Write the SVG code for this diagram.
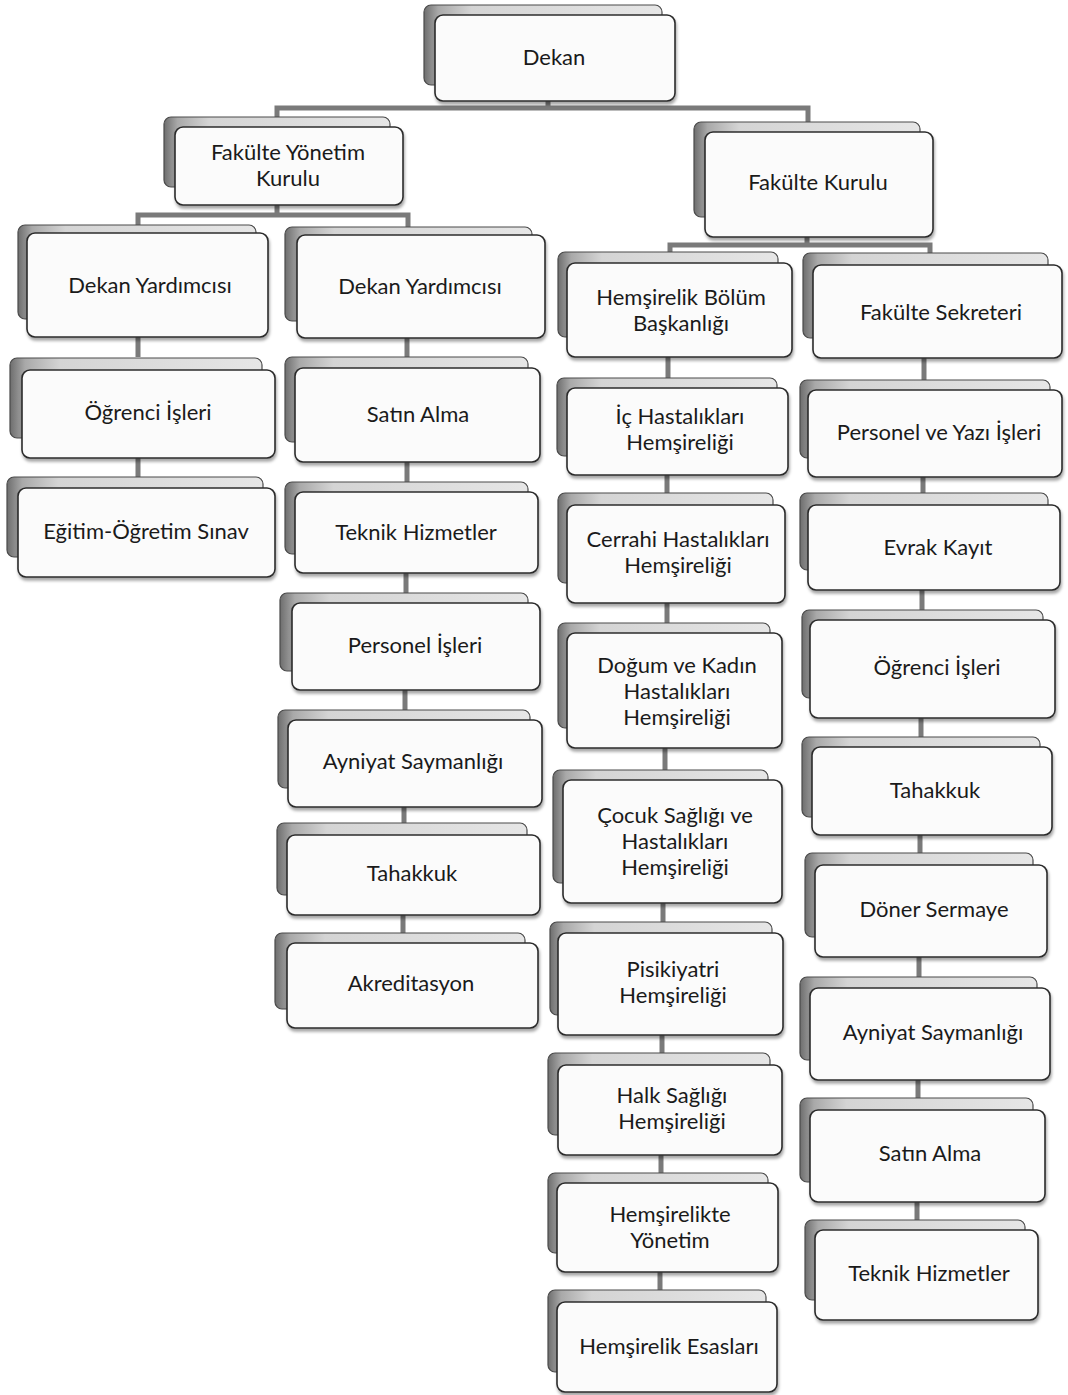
<svg xmlns="http://www.w3.org/2000/svg" width="1068" height="1395" viewBox="0 0 1068 1395">
<defs>
<linearGradient id="bk" x1="0" y1="0" x2="1" y2="0">
<stop offset="0" stop-color="#6e6e6e"/>
<stop offset="0.06" stop-color="#a9a9a9"/>
<stop offset="0.2" stop-color="#d4d4d4"/>
<stop offset="1" stop-color="#e6e6e6"/>
</linearGradient>
<filter id="sh" x="-5%" y="-5%" width="112%" height="120%">
<feDropShadow dx="1" dy="3" stdDeviation="1.5" flood-color="#000" flood-opacity="0.35"/>
</filter>
</defs>
<style>
.bk{fill:url(#bk);stroke:#4a4a4a;stroke-width:1.2}
.fr{fill:#fbfbfb;stroke:#2b2b2b;stroke-width:1.6;filter:url(#sh)}
.t{font-family:Lato,"Liberation Sans",sans-serif;font-size:22px;fill:#1a1a1a;text-anchor:middle}
.c{fill:none;stroke:#7a7a7a;stroke-width:5;stroke-linejoin:miter}
</style>
<rect width="1068" height="1395" fill="#ffffff"/>
<g id="connectors">
<path class="c" d="M548,101 V108 M277,117 V108 H808 V122"/>
<path class="c" d="M277,205 V215 M138,225 V215 H408 V227"/>
<path class="c" d="M807,237 V245 M670,253 V245 H930 V253"/>
<path class="c" d="M138,337 V357 M138,458 V477"/>
<path class="c" d="M407,338 V357 M407,462 V482 M406,573 V593 M405,690 V710 M404,807 V823 M403,915 V933"/>
<path class="c" d="M668,357 V378 M667,475 V493 M667,603 V623 M665,748 V770 M663,903 V922 M662,1035 V1053 M661,1155 V1173 M660,1272 V1290"/>
<path class="c" d="M924,358 V380 M923,477 V493 M922,590 V610 M921,718 V737 M920,835 V853 M919,957 V977 M918,1080 V1098 M917,1202 V1220"/>
</g>
<g id="n-dekan"><rect class="bk" x="424" y="5" width="238" height="80" rx="7"/><rect class="fr" x="435" y="15" width="240" height="86" rx="8"/><text class="t" x="554" y="65">Dekan</text></g>
<g id="n-fyk"><rect class="bk" x="164" y="117" width="226" height="70" rx="7"/><rect class="fr" x="175" y="127" width="228" height="78" rx="8"/><text class="t" x="288" y="160">Fakülte Yönetim</text><text class="t" x="288" y="186">Kurulu</text></g>
<g id="n-fk"><rect class="bk" x="694" y="122" width="226" height="95" rx="7"/><rect class="fr" x="705" y="132" width="228" height="105" rx="8"/><text class="t" x="818" y="190">Fakülte Kurulu</text></g>
<g id="n-dy1"><rect class="bk" x="18" y="225" width="238" height="94" rx="7"/><rect class="fr" x="27" y="233" width="241" height="104" rx="8"/><text class="t" x="150" y="293">Dekan Yardımcısı</text></g>
<g id="n-oi1"><rect class="bk" x="10" y="358" width="252" height="80" rx="7"/><rect class="fr" x="22" y="370" width="253" height="88" rx="8"/><text class="t" x="148" y="420">Öğrenci İşleri</text></g>
<g id="n-eos"><rect class="bk" x="7" y="477" width="256" height="80" rx="7"/><rect class="fr" x="18" y="488" width="257" height="89" rx="8"/><text class="t" x="146" y="539">Eğitim-Öğretim Sınav</text></g>
<g id="n-dy2"><rect class="bk" x="285" y="227" width="247" height="94" rx="7"/><rect class="fr" x="297" y="235" width="248" height="103" rx="8"/><text class="t" x="420" y="294">Dekan Yardımcısı</text></g>
<g id="n-sa1"><rect class="bk" x="285" y="357" width="243" height="85" rx="7"/><rect class="fr" x="295" y="368" width="245" height="94" rx="8"/><text class="t" x="418" y="422">Satın Alma</text></g>
<g id="n-th1"><rect class="bk" x="285" y="482" width="243" height="72" rx="7"/><rect class="fr" x="295" y="492" width="243" height="81" rx="8"/><text class="t" x="416" y="540">Teknik Hizmetler</text></g>
<g id="n-pi"><rect class="bk" x="280" y="593" width="248" height="78" rx="7"/><rect class="fr" x="292" y="603" width="248" height="87" rx="8"/><text class="t" x="415" y="653">Personel İşleri</text></g>
<g id="n-as1"><rect class="bk" x="278" y="710" width="252" height="78" rx="7"/><rect class="fr" x="288" y="720" width="254" height="87" rx="8"/><text class="t" x="413" y="769">Ayniyat Saymanlığı</text></g>
<g id="n-ta1"><rect class="bk" x="277" y="823" width="250" height="72" rx="7"/><rect class="fr" x="287" y="835" width="253" height="80" rx="8"/><text class="t" x="412" y="881">Tahakkuk</text></g>
<g id="n-ak"><rect class="bk" x="275" y="933" width="250" height="76" rx="7"/><rect class="fr" x="287" y="943" width="251" height="85" rx="8"/><text class="t" x="411" y="991">Akreditasyon</text></g>
<g id="n-hbb"><rect class="bk" x="558" y="252" width="220" height="85" rx="7"/><rect class="fr" x="567" y="263" width="225" height="94" rx="8"/><text class="t" x="681" y="305">Hemşirelik Bölüm</text><text class="t" x="681" y="331">Başkanlığı</text></g>
<g id="n-ih"><rect class="bk" x="557" y="378" width="220" height="78" rx="7"/><rect class="fr" x="567" y="388" width="221" height="87" rx="8"/><text class="t" x="680" y="424">İç Hastalıkları</text><text class="t" x="680" y="450">Hemşireliği</text></g>
<g id="n-ch"><rect class="bk" x="558" y="493" width="215" height="90" rx="7"/><rect class="fr" x="567" y="505" width="218" height="98" rx="8"/><text class="t" x="678" y="547">Cerrahi Hastalıkları</text><text class="t" x="678" y="573">Hemşireliği</text></g>
<g id="n-dk"><rect class="bk" x="558" y="623" width="212" height="105" rx="7"/><rect class="fr" x="567" y="633" width="215" height="115" rx="8"/><text class="t" x="677" y="673">Doğum ve Kadın</text><text class="t" x="677" y="699">Hastalıkları</text><text class="t" x="677" y="725">Hemşireliği</text></g>
<g id="n-cs"><rect class="bk" x="553" y="770" width="215" height="113" rx="7"/><rect class="fr" x="563" y="780" width="219" height="123" rx="8"/><text class="t" x="675" y="823">Çocuk Sağlığı ve</text><text class="t" x="675" y="849">Hastalıkları</text><text class="t" x="675" y="875">Hemşireliği</text></g>
<g id="n-ph"><rect class="bk" x="550" y="922" width="222" height="93" rx="7"/><rect class="fr" x="558" y="933" width="225" height="102" rx="8"/><text class="t" x="673" y="977">Pisikiyatri</text><text class="t" x="673" y="1003">Hemşireliği</text></g>
<g id="n-hs"><rect class="bk" x="548" y="1053" width="222" height="82" rx="7"/><rect class="fr" x="558" y="1065" width="224" height="90" rx="8"/><text class="t" x="672" y="1103">Halk Sağlığı</text><text class="t" x="672" y="1129">Hemşireliği</text></g>
<g id="n-hy"><rect class="bk" x="548" y="1173" width="220" height="80" rx="7"/><rect class="fr" x="557" y="1183" width="221" height="89" rx="8"/><text class="t" x="670" y="1222">Hemşirelikte</text><text class="t" x="670" y="1248">Yönetim</text></g>
<g id="n-he"><rect class="bk" x="548" y="1290" width="218" height="82" rx="7"/><rect class="fr" x="557" y="1302" width="220" height="90" rx="8"/><text class="t" x="669" y="1354">Hemşirelik Esasları</text></g>
<g id="n-fs"><rect class="bk" x="803" y="253" width="245" height="85" rx="7"/><rect class="fr" x="813" y="265" width="249" height="93" rx="8"/><text class="t" x="941" y="320">Fakülte Sekreteri</text></g>
<g id="n-py"><rect class="bk" x="800" y="380" width="250" height="78" rx="7"/><rect class="fr" x="808" y="390" width="254" height="87" rx="8"/><text class="t" x="939" y="440">Personel ve Yazı İşleri</text></g>
<g id="n-ek"><rect class="bk" x="800" y="493" width="248" height="77" rx="7"/><rect class="fr" x="808" y="505" width="252" height="85" rx="8"/><text class="t" x="938" y="555">Evrak Kayıt</text></g>
<g id="n-oi2"><rect class="bk" x="802" y="610" width="241" height="88" rx="7"/><rect class="fr" x="810" y="620" width="245" height="98" rx="8"/><text class="t" x="937" y="675">Öğrenci İşleri</text></g>
<g id="n-ta2"><rect class="bk" x="802" y="737" width="238" height="80" rx="7"/><rect class="fr" x="812" y="747" width="240" height="88" rx="8"/><text class="t" x="935" y="798">Tahakkuk</text></g>
<g id="n-ds"><rect class="bk" x="805" y="853" width="228" height="84" rx="7"/><rect class="fr" x="815" y="865" width="232" height="92" rx="8"/><text class="t" x="934" y="917">Döner Sermaye</text></g>
<g id="n-as2"><rect class="bk" x="800" y="977" width="237" height="83" rx="7"/><rect class="fr" x="810" y="988" width="240" height="92" rx="8"/><text class="t" x="933" y="1040">Ayniyat Saymanlığı</text></g>
<g id="n-sa2"><rect class="bk" x="800" y="1098" width="233" height="84" rx="7"/><rect class="fr" x="810" y="1110" width="235" height="92" rx="8"/><text class="t" x="930" y="1161">Satın Alma</text></g>
<g id="n-th2"><rect class="bk" x="805" y="1220" width="220" height="80" rx="7"/><rect class="fr" x="815" y="1230" width="223" height="90" rx="8"/><text class="t" x="929" y="1281">Teknik Hizmetler</text></g>
</svg>
